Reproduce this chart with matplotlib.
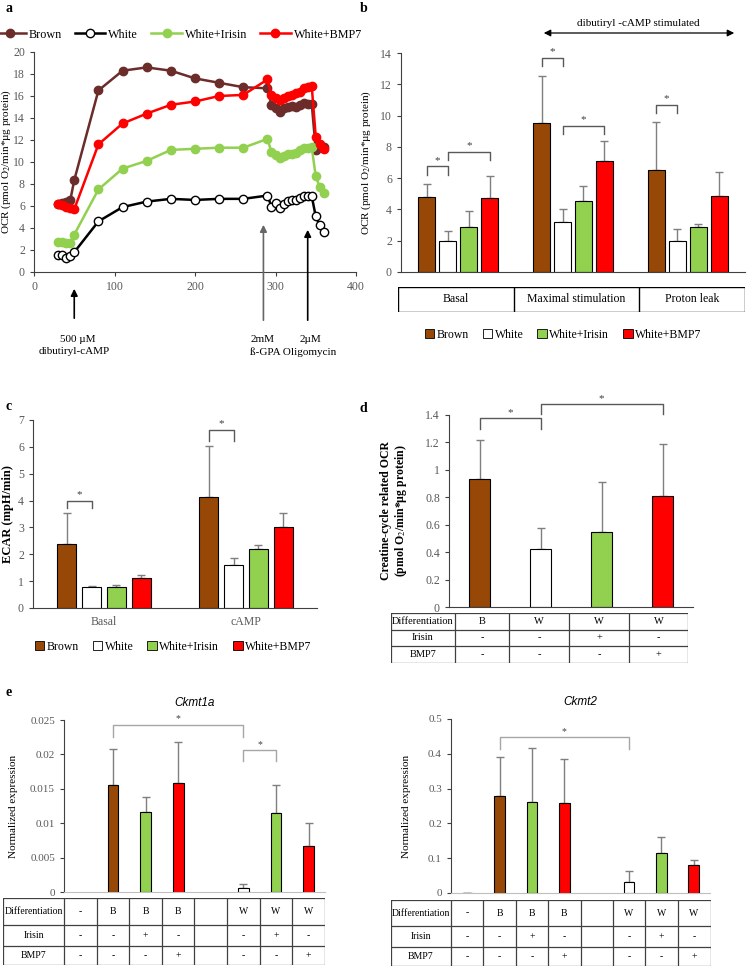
import numpy as np
import matplotlib
matplotlib.use("Agg")
import matplotlib.pyplot as plt
from matplotlib.patches import Patch

plt.rcParams["font.family"] = ["Liberation Serif", "DejaVu Serif"]
plt.rcParams["mathtext.fontset"] = "stix"

W, H = 747, 967

# -----------------------------------------------------
# Data
# -----------------------------------------------------

# a: OCR time course
minutes = [30, 35, 40, 45, 50, 80, 110, 140, 170, 200, 230, 260, 290,
           295, 300, 305, 310, 315, 320, 325, 330, 335, 340, 345,
           350, 355, 360]
ocr_brown = [6.2, 6.3, 6.4, 6.5, 8.35, 16.5, 18.3, 18.6, 18.3, 17.6, 17.2, 16.8, 16.7,
             15.2, 14.9, 14.5, 14.9, 15.0, 15.1, 15.0, 15.2, 15.4, 15.3, 15.3,
             11.1, 11.4, 11.4]
ocr_white = [1.5, 1.5, 1.3, 1.45, 1.8, 4.6, 5.9, 6.4, 6.65, 6.55, 6.65, 6.65, 6.95,
             5.95, 6.25, 5.85, 6.2, 6.45, 6.5, 6.55, 6.7, 6.9, 6.9, 6.9,
             5.05, 4.25, 3.65]
ocr_irisin = [2.75, 2.75, 2.65, 2.6, 3.4, 7.5, 9.4, 10.1, 11.1, 11.2, 11.3, 11.3, 12.1,
              10.9, 10.6, 10.35, 10.5, 10.7, 10.75, 10.85, 11.1, 11.3, 11.25, 11.35,
              8.7, 7.7, 7.15]
ocr_bmp7 = [6.2, 6.1, 5.9, 5.8, 5.7, 11.6, 13.5, 14.4, 15.2, 15.5, 16.0, 16.1, 17.5,
            16.1, 15.8, 15.6, 15.8, 16.0, 16.1, 16.3, 16.4, 16.7, 16.8, 16.9,
            12.3, 11.6, 11.2]

# b: OCR summary
groups_b = ["Basal", "Maximal stimulation", "Proton leak"]
b_brown = [4.8, 9.5, 6.5]
b_white = [2.0, 3.2, 2.0]
b_irisin = [2.85, 4.55, 2.85]
b_bmp7 = [4.7, 7.1, 4.85]
b_brown_err = [0.8, 3.0, 3.1]
b_white_err = [0.65, 0.8, 0.75]
b_irisin_err = [1.05, 0.95, 0.2]
b_bmp7_err = [1.45, 1.25, 1.55]

# c: ECAR
groups_c = ["Basal", "cAMP"]
c_brown = [2.38, 4.15]
c_white = [0.77, 1.6]
c_irisin = [0.8, 2.2]
c_bmp7 = [1.12, 3.0]
c_brown_err = [1.14, 1.9]
c_white_err = [0.04, 0.25]
c_irisin_err = [0.06, 0.15]
c_bmp7_err = [0.1, 0.55]

# d: creatine-cycle related OCR
d_values = [0.93, 0.42, 0.55, 0.81]
d_err = [0.29, 0.155, 0.36, 0.375]
d_diff = ["B", "W", "W", "W"]
d_irisin = ["-", "-", "+", "-"]
d_bmp7 = ["-", "-", "-", "+"]

# e: expression
ckmt1a = [np.nan, 0.0155, 0.0116, 0.0159, np.nan, 0.0006, 0.0115, 0.0067]
ckmt1a_err = [0, 0.0053, 0.0022, 0.0059, 0, 0.0005, 0.0041, 0.0034]
ckmt2 = [0.001, 0.28, 0.2615, 0.2586, np.nan, 0.0316, 0.115, 0.0795]
ckmt2_err = [0, 0.111, 0.155, 0.126, 0, 0.031, 0.045, 0.016]
e_diff = ["-", "B", "B", "B", "", "W", "W", "W"]
e_irisin = ["-", "-", "+", "-", "", "-", "+", "-"]
e_bmp7 = ["-", "-", "-", "+", "", "-", "-", "+"]

labels = ["Brown", "White", "White+Irisin", "White+BMP7"]

# -----------------------------------------------------
# Styles
# -----------------------------------------------------
BROWN = "#974806"
LINE_BROWN = "#6B2C2A"
GREEN = "#92D050"
RED = "#FF0000"
GREY_TXT = "#595959"
ERR = "#7F7F7F"
bar_colors = [BROWN, "white", GREEN, RED]
e_colors = ["white", BROWN, GREEN, RED, "white", "white", GREEN, RED]


def rect(l, t, r, b):
    return [l / W, 1 - b / H, (r - l) / W, (b - t) / H]


def fx(px):
    return px / W


def fy(py):
    return 1 - py / H


def style_axes(ax, size=8.5):
    for s in ["top", "right"]:
        ax.spines[s].set_visible(False)
    ax.spines["left"].set_color("#404040")
    ax.spines["bottom"].set_color("#404040")
    ax.tick_params(axis="both", labelsize=size, colors=GREY_TXT, length=3,
                   width=0.8)
    ax.tick_params(axis="both", color="#404040")


def bracket(ax, x1, x2, y_top, drop, star_pad, size=8):
    ax.plot([x1, x1, x2, x2], [y_top - drop, y_top, y_top, y_top - drop],
            color="#595959", lw=1.0, clip_on=False)
    ax.text((x1 + x2) / 2, y_top + star_pad, "*", ha="center", va="bottom",
            fontsize=size, color="#404040")


def grouped_bars(ax, n_groups, series, errs, width, step):
    offsets = (np.arange(4) - 1.5) * step
    x = np.arange(n_groups)
    for i in range(4):
        ax.bar(x + offsets[i], series[i], width=width, color=bar_colors[i],
               edgecolor="black", linewidth=0.8, zorder=2)
        ax.errorbar(x + offsets[i], series[i], yerr=[np.zeros(n_groups), errs[i]],
                    fmt="none", ecolor=ERR, elinewidth=1.0, capsize=3,
                    capthick=1.0, zorder=1)
    return x, offsets


def draw_table(fig, box, col_edges, rows, label_edge, row_edges, fontsize=7):
    tax = fig.add_axes(rect(*box))
    tax.set_xlim(box[0], box[2])
    tax.set_ylim(box[3], box[1])
    tax.axis("off")
    l, t, r, b = box
    kw = dict(color="#404040", lw=0.9)
    tax.plot([l, r, r, l, l], [t, t, b, b, t], **kw)
    for y in row_edges[1:-1]:
        tax.plot([l, r], [y, y], **kw)
    for e in [label_edge] + list(col_edges[1:-1]):
        tax.plot([e, e], [t, b], **kw)
    for k, (name, cells) in enumerate(rows):
        yc = (row_edges[k] + row_edges[k + 1]) / 2
        tax.text((l + label_edge) / 2, yc, name, ha="center", va="center",
                 fontsize=fontsize)
        for j, txt in enumerate(cells):
            xc = (col_edges[j] + col_edges[j + 1]) / 2
            tax.text(xc, yc, txt, ha="center", va="center", fontsize=fontsize)
    return tax


fig = plt.figure(figsize=(W / 100, H / 100), dpi=100)

# -----------------------------------------------------
# Panel a
# -----------------------------------------------------
ax_a = fig.add_axes(rect(34, 52, 356, 272))
series_a = [ocr_brown, ocr_white, ocr_irisin, ocr_bmp7]
line_cols = [LINE_BROWN, "black", GREEN, RED]
face_cols = [LINE_BROWN, "white", GREEN, RED]
for vals, lc, fc, lab in zip(series_a, line_cols, face_cols, labels):
    ax_a.plot(minutes, vals, color=lc, lw=1.8, marker="o", markersize=6,
              markerfacecolor=fc, markeredgecolor=lc, markeredgewidth=1.0,
              label=lab)
ax_a.set_xlim(0, 400)
ax_a.set_ylim(0, 20)
ax_a.set_xticks([0, 100, 200, 300, 400])
ax_a.set_yticks(range(0, 21, 2))
style_axes(ax_a, 8.5)
ax_a.set_ylabel("OCR (pmol O$_2$/min*µg protein)", fontsize=8)
ax_a.yaxis.set_label_coords(-0.065, 0.5)
ax_a.legend(loc="lower center", bbox_to_anchor=(0.449, 1.03), ncol=4,
            frameon=False, fontsize=8.7, handlelength=2.5, handletextpad=0.25,
            columnspacing=1.1, borderaxespad=0)

arrow_specs = [(50, 321, 286, "black"), (285, 323, 222, "#666666"),
               (340, 323, 227, "black")]
for xd, y0, y1, col in arrow_specs:
    ax_a.annotate("", xy=(xd, fy(y1)), xytext=(xd, fy(y0)),
                  xycoords=("data", "figure fraction"),
                  textcoords=("data", "figure fraction"),
                  arrowprops=dict(arrowstyle="-|>", color=col, lw=1.2,
                                  mutation_scale=10),
                  annotation_clip=False)
fig.text(fx(78), fy(340), "500 µM", ha="center", va="center", fontsize=8)
fig.text(fx(74), fy(352), "dibutiryl-cAMP", ha="center", va="center", fontsize=8)
fig.text(fx(263), fy(340), "2mM", ha="center", va="center", fontsize=8)
fig.text(fx(310), fy(340), "2µM", ha="center", va="center", fontsize=8)
fig.text(fx(293), fy(352), "ß-GPA Oligomycin", ha="center", va="center", fontsize=8)

# -----------------------------------------------------
# Panel b
# -----------------------------------------------------
ax_b = fig.add_axes(rect(401, 53, 745, 272))
xb, offb = grouped_bars(ax_b, 3, [b_brown, b_white, b_irisin, b_bmp7],
                        [b_brown_err, b_white_err, b_irisin_err, b_bmp7_err],
                        width=0.15, step=0.183)
ax_b.set_xlim(-0.5, 2.5)
ax_b.set_ylim(0, 14)
ax_b.set_yticks(range(0, 15, 2))
ax_b.set_xticks([])
style_axes(ax_b, 8.5)
ax_b.set_ylabel("OCR (pmol O$_2$/min*µg protein)", fontsize=8)
ax_b.yaxis.set_label_coords(-0.081, 0.5)
bracket(ax_b, xb[0] + offb[0], xb[0] + offb[1], 6.75, 0.55, 0.1)
bracket(ax_b, xb[0] + offb[1], xb[0] + offb[3], 7.7, 0.55, 0.1)
bracket(ax_b, xb[1] + offb[0], xb[1] + offb[1], 13.7, 0.55, 0.1)
bracket(ax_b, xb[1] + offb[1], xb[1] + offb[3], 9.35, 0.55, 0.1)
bracket(ax_b, xb[2] + offb[0], xb[2] + offb[1], 10.7, 0.55, 0.1)

tb = fig.add_axes(rect(398, 287, 745, 312))
tb.set_xlim(398, 745)
tb.set_ylim(312, 287)
tb.axis("off")
tb.plot([398, 745, 745, 398, 398], [287, 287, 312, 312, 287], color="black", lw=1.0)
b_edges = [398, 514, 639, 745]
for e in b_edges[1:-1]:
    tb.plot([e, e], [287, 312], color="black", lw=1.0)
for j, g in enumerate(groups_b):
    tb.text((b_edges[j] + b_edges[j + 1]) / 2, 299.5, g, ha="center",
            va="center", fontsize=8.5)

ax_b.annotate("", xy=(fx(737), fy(33)), xytext=(fx(541), fy(33)),
              xycoords="figure fraction", textcoords="figure fraction",
              arrowprops=dict(arrowstyle="<|-|>", color="black", lw=0.9,
                              mutation_scale=10))
fig.text(fx(638), fy(23), "dibutiryl -cAMP stimulated", ha="center",
         va="center", fontsize=8)

handles = [Patch(facecolor=c, edgecolor="black", linewidth=0.6) for c in bar_colors]
fig.legend(handles, labels, loc="center", bbox_to_anchor=(fx(563), fy(335)),
           ncol=4, frameon=False, fontsize=8.5, handlelength=0.8,
           handleheight=0.8, handletextpad=0.2, columnspacing=1.2)

# -----------------------------------------------------
# Panel c
# -----------------------------------------------------
ax_c = fig.add_axes(rect(33, 420, 317, 608))
xc, offc = grouped_bars(ax_c, 2, [c_brown, c_white, c_irisin, c_bmp7],
                        [c_brown_err, c_white_err, c_irisin_err, c_bmp7_err],
                        width=0.14, step=0.176)
ax_c.set_xlim(-0.5, 1.5)
ax_c.set_ylim(0, 7)
ax_c.set_yticks(range(0, 8))
ax_c.set_xticks(xc)
ax_c.set_xticklabels(groups_c)
style_axes(ax_c, 8.5)
ax_c.tick_params(axis="x", length=0, pad=6)
ax_c.set_ylabel("ECAR (mpH/min)", fontsize=9, fontweight="bold")
ax_c.yaxis.set_label_coords(-0.067, 0.5)
bracket(ax_c, xc[0] + offc[0], xc[0] + offc[1], 4.0, 0.26, 0.05)
bracket(ax_c, xc[1] + offc[0], xc[1] + offc[1], 6.63, 0.43, 0.05)

fig.legend(handles, labels, loc="center", bbox_to_anchor=(fx(173), fy(647)),
           ncol=4, frameon=False, fontsize=8.5, handlelength=0.8,
           handleheight=0.8, handletextpad=0.2, columnspacing=1.2)

# -----------------------------------------------------
# Panel d
# -----------------------------------------------------
ax_d = fig.add_axes(rect(449, 415, 693, 607))
xd = np.arange(4)
ax_d.bar(xd, d_values, width=0.33, color=bar_colors, edgecolor="black",
         linewidth=0.8, zorder=2)
ax_d.errorbar(xd, d_values, yerr=[np.zeros(4), d_err], fmt="none", ecolor=ERR,
              elinewidth=1.0, capsize=3, capthick=1.0, zorder=1)
ax_d.set_xlim(-0.5, 3.5)
ax_d.set_ylim(0, 1.4)
ax_d.set_yticks(np.arange(0, 1.41, 0.2))
ax_d.set_yticklabels(["0", "0.2", "0.4", "0.6", "0.8", "1", "1.2", "1.4"])
ax_d.set_xticks([])
style_axes(ax_d, 8.5)
ax_d.set_ylabel("Creatine-cycle related OCR\n(pmol O$_2$/min*µg protein)",
                fontsize=8.5, fontweight="bold", linespacing=1.1)
ax_d.yaxis.set_label_coords(-0.164, 0.5)
bracket(ax_d, 0, 1, 1.376, 0.08, 0.01)
bracket(ax_d, 1, 3, 1.48, 0.075, 0.01)

d_edges = [455, 509, 569, 629, 688]
draw_table(fig, (391, 613, 688, 663), d_edges,
           [("Differentiation", d_diff), ("Irisin", d_irisin), ("BMP7", d_bmp7)],
           455, [613, 630, 646, 663], fontsize=7.5)

# -----------------------------------------------------
# Panel e
# -----------------------------------------------------
def expression_panel(box, values, errs, ymax, ystep, ticklabels, title,
                     brackets, table_box, label_edge, row_edges, label_x):
    ax = fig.add_axes(rect(*box))
    x = np.arange(8)
    vals = np.array(values, dtype=float)
    ok = ~np.isnan(vals)
    cols = [c for c, k in zip(e_colors, ok) if k]
    ax.bar(x[ok], vals[ok], width=0.33, color=cols, edgecolor="black",
           linewidth=0.8, zorder=2)
    ax.errorbar(x[ok], vals[ok], yerr=[np.zeros(ok.sum()), np.array(errs)[ok]],
                fmt="none", ecolor=ERR, elinewidth=1.0, capsize=3,
                capthick=1.0, zorder=1)
    ax.set_xlim(-0.5, 7.5)
    ax.set_ylim(0, ymax)
    ax.set_yticks(np.arange(0, ymax + ystep / 2, ystep))
    ax.set_yticklabels(ticklabels)
    ax.set_xticks([])
    style_axes(ax, 8)
    ax.spines["bottom"].set_color("#BFBFBF")
    ax.set_ylabel("Normalized expression", fontsize=8)
    ax.yaxis.set_label_coords(label_x, 0.5)
    ax.set_title(title, fontsize=8.5, style="italic",
                 family=["Liberation Sans", "DejaVu Sans"], pad=10)
    for x1, x2, yt, dr in brackets:
        ax.plot([x1, x1, x2, x2], [yt - dr, yt, yt, yt - dr], color="#A6A6A6",
                lw=1.0, clip_on=False)
        ax.text((x1 + x2) / 2, yt + dr * 0.15, "*", ha="center", va="bottom",
                fontsize=7, color="#404040")
    l, r = box[0], box[2]
    step = (r - l) / 8
    edges = [l + k * step for k in range(9)]
    draw_table(fig, table_box, edges,
               [("Differentiation", e_diff), ("Irisin", e_irisin),
                ("BMP7", e_bmp7)], label_edge, row_edges, fontsize=7)
    return ax


expression_panel((64, 720, 325, 892), ckmt1a, ckmt1a_err, 0.025, 0.005,
                 ["0", "0.005", "0.01", "0.015", "0.02", "0.025"], "Ckmt1a",
                 [(1, 5, 0.02427, 0.0017), (5, 6, 0.0206, 0.0016)],
                 (3, 898, 325, 965), 64, [898, 925, 946, 965], -0.176)
expression_panel((451, 719, 710, 893), ckmt2, ckmt2_err, 0.5, 0.1,
                 ["0", "0.1", "0.2", "0.3", "0.4", "0.5"], "Ckmt2",
                 [(1, 5, 0.447, 0.032)],
                 (391, 900, 711, 966), 451, [900, 926, 947, 966], -0.154)

# panel letters
for letter, px, py in [("a", 6, 8), ("b", 360, 8), ("c", 6, 406),
                       ("d", 360, 408), ("e", 6, 692)]:
    fig.text(fx(px), fy(py), letter, fontsize=10, fontweight="bold",
             ha="left", va="center")

fig.savefig("out.png", dpi=100)
